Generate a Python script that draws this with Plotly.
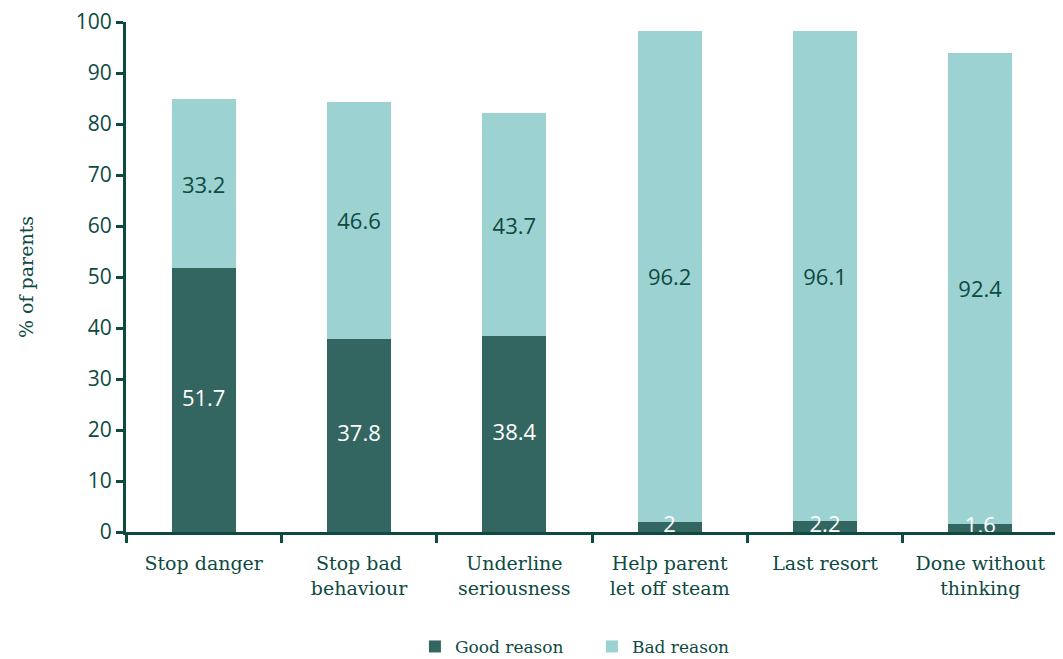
"""Stacked bar chart: parents' reasons for smacking, good vs bad"""

import plotly.graph_objects as go

CATEGORIES = [
    "Stop danger",
    "Stop bad<br>behaviour",
    "Underline<br>seriousness",
    "Help parent<br>let off steam",
    "Last resort",
    "Done without<br>thinking",
]
GOOD_REASON = [51.7, 37.8, 38.4, 2, 2.2, 1.6]
BAD_REASON = [33.2, 46.6, 43.7, 96.2, 96.1, 92.4]
Y_TICKS = list(range(0, 101, 10))

DARK = "#336660"
LIGHT = "#9cd2d1"
INK = "#0d4a42"
SERIF = "DejaVu Serif"
SANS = "Open Sans"

fig = go.Figure()
fig.add_trace(go.Bar(
    x=CATEGORIES, y=GOOD_REASON, name="Good reason",
    marker_color=DARK, marker_line_width=0,
))
fig.add_trace(go.Bar(
    x=CATEGORIES, y=BAD_REASON, name="Bad reason",
    marker_color=LIGHT, marker_line_width=0,
    text=[f"{v:g}" for v in BAD_REASON],
    textposition="inside", insidetextanchor="middle", constraintext="none",
    textfont=dict(family=SANS, size=22, color=INK),
))
# good-reason labels drawn on top so the small values stay visible
fig.add_trace(go.Scatter(
    x=CATEGORIES, y=[v / 2 for v in GOOD_REASON],
    mode="text", text=[f"{v:g}" for v in GOOD_REASON],
    textposition="middle center", cliponaxis=False, showlegend=False,
    textfont=dict(family=SANS, size=22, color="white"), hoverinfo="skip",
))

# page body has an 8px margin, so the figure is sized to fit beside it
fig.update_layout(
    barmode="stack",
    bargap=0.587,
    width=1055,
    height=651,
    plot_bgcolor="white",
    paper_bgcolor="white",
    margin=dict(l=118, r=5, t=14, b=127, autoexpand=False),
    font=dict(family=SERIF, color=INK),
    legend=dict(
        orientation="h", x=0.31, xanchor="left", y=-0.19, yanchor="top",
        font=dict(family=SERIF, size=17, color=INK),
        traceorder="normal", entrywidth=132, entrywidthmode="pixels",
    ),
    xaxis=dict(
        showline=True, linecolor=INK, linewidth=3,
        ticks="outside", tickson="boundaries", ticklen=8, tickwidth=3, tickcolor=INK,
        tickfont=dict(family=SERIF, size=19, color=INK),
        ticklabelstandoff=12,
        showgrid=False, automargin=False,
    ),
    yaxis=dict(
        range=[0, 100], tickvals=Y_TICKS,
        showline=True, linecolor=INK, linewidth=3,
        ticks="outside", ticklen=7, tickwidth=3, tickcolor=INK,
        tickfont=dict(family=SANS, size=21, color=INK),
        ticklabeloverflow="allow",
        showgrid=False, zeroline=False, automargin=False,
        title=dict(text="% of parents", font=dict(family=SERIF, size=19, color=INK), standoff=38),
    ),
)

fig.write_html("out.html")
